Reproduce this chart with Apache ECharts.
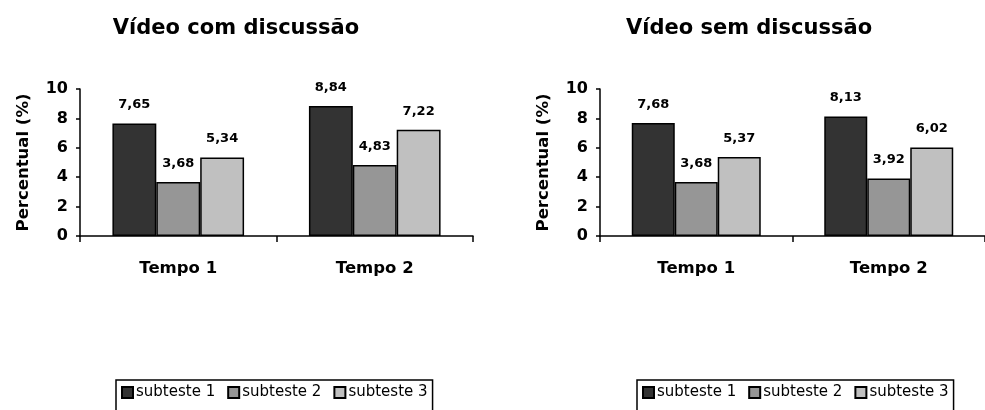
<!DOCTYPE html>
<html>
<head>
<meta charset="utf-8">
<script src="https://cdn.jsdelivr.net/npm/echarts@6/dist/echarts.min.js"></script>
<style>
  html, body { margin: 0; padding: 0; background: #fff; }
  #chart { width: 985px; height: 410px; }
</style>
</head>
<body>
<div id="chart"></div>
<script>
// Categories and series values (percent) for both panels
const categories = ['Tempo 1', 'Tempo 2'];
const seriesNames = ['subteste 1', 'subteste 2', 'subteste 3'];
const titles = ['Vídeo com discussão', 'Vídeo sem discussão'];

const comSubteste1 = [7.65, 8.84];
const comSubteste2 = [3.68, 4.83];
const comSubteste3 = [5.34, 7.22];

const semSubteste1 = [7.68, 8.13];
const semSubteste2 = [3.68, 3.92];
const semSubteste3 = [5.37, 6.02];

const colors = ['#333333', '#969696', '#c0c0c0'];
const FONT = '"DejaVu Sans", "Liberation Sans", Arial, sans-serif';

const chart = echarts.init(document.getElementById('chart'), null, { renderer: 'canvas' });

const fmt = p => p.value.toFixed(2).replace('.', ',');

function barSeries(name, data, idx, gridIdx) {
  return {
    name: name,
    type: 'bar',
    xAxisIndex: gridIdx,
    yAxisIndex: gridIdx,
    data: data,
    barGap: '0%',
    barCategoryGap: '33%',
    itemStyle: { color: colors[idx], borderColor: '#000', borderWidth: 1.5 },
    label: {
      show: true, position: 'top', distance: 12,
      formatter: fmt,
      fontFamily: FONT, fontWeight: 'bold', fontSize: 13, color: '#000'
    },
    emphasis: { disabled: true },
    animation: false
  };
}

const panelGrids = [
  { left: 80, top: 89, width: 393, height: 147 },
  { left: 600, top: 89, width: 394, height: 147 }
];

function xAxisFor(gridIdx) {
  return {
    type: 'category', gridIndex: gridIdx, data: categories,
    axisLine: { lineStyle: { color: '#000', width: 1.5 } },
    axisTick: { show: true, length: 6, lineStyle: { color: '#000', width: 1.5 } },
    axisLabel: { fontFamily: FONT, fontWeight: 'bold', fontSize: 16.5, color: '#000', margin: 24 }
  };
}

function yAxisFor(gridIdx) {
  return {
    type: 'value', gridIndex: gridIdx, min: 0, max: 10, interval: 2,
    name: 'Percentual (%)', nameLocation: 'middle', nameGap: 48,
    nameTextStyle: { fontFamily: FONT, fontWeight: 'bold', fontSize: 16.5, color: '#000' },
    axisLine: { show: true, lineStyle: { color: '#000', width: 1.5 } },
    axisTick: { show: true, length: 4, lineStyle: { color: '#000', width: 1.5 } },
    axisLabel: { fontFamily: FONT, fontWeight: 'bold', fontSize: 16, color: '#000', margin: 12 },
    splitLine: { show: false }
  };
}

function legendFor(center) {
  return {
    left: center - 160, top: 380, width: 320,
    data: seriesNames,
    icon: 'rect', itemWidth: 11, itemHeight: 11, itemGap: 12,
    borderColor: '#000', borderWidth: 1.5, borderRadius: 0,
    padding: [5, 5, 14, 5],
    textStyle: { fontFamily: FONT, fontSize: 15, color: '#000', padding: [0, 0, 0, -2] },
    selectedMode: false
  };
}

chart.setOption({
  backgroundColor: '#fff',
  title: [
    { text: titles[0], left: 231, top: 13, textAlign: 'center',
      textStyle: { fontFamily: FONT, fontWeight: 'bold', fontSize: 21, color: '#000' } },
    { text: titles[1], left: 744, top: 13, textAlign: 'center',
      textStyle: { fontFamily: FONT, fontWeight: 'bold', fontSize: 21, color: '#000' } }
  ],
  legend: [legendFor(276), legendFor(797)],
  grid: panelGrids,
  xAxis: [xAxisFor(0), xAxisFor(1)],
  yAxis: [yAxisFor(0), yAxisFor(1)],
  series: [
    barSeries(seriesNames[0], comSubteste1, 0, 0),
    barSeries(seriesNames[1], comSubteste2, 1, 0),
    barSeries(seriesNames[2], comSubteste3, 2, 0),
    barSeries(seriesNames[0], semSubteste1, 0, 1),
    barSeries(seriesNames[1], semSubteste2, 1, 1),
    barSeries(seriesNames[2], semSubteste3, 2, 1)
  ]
});
</script>
</body>
</html>
